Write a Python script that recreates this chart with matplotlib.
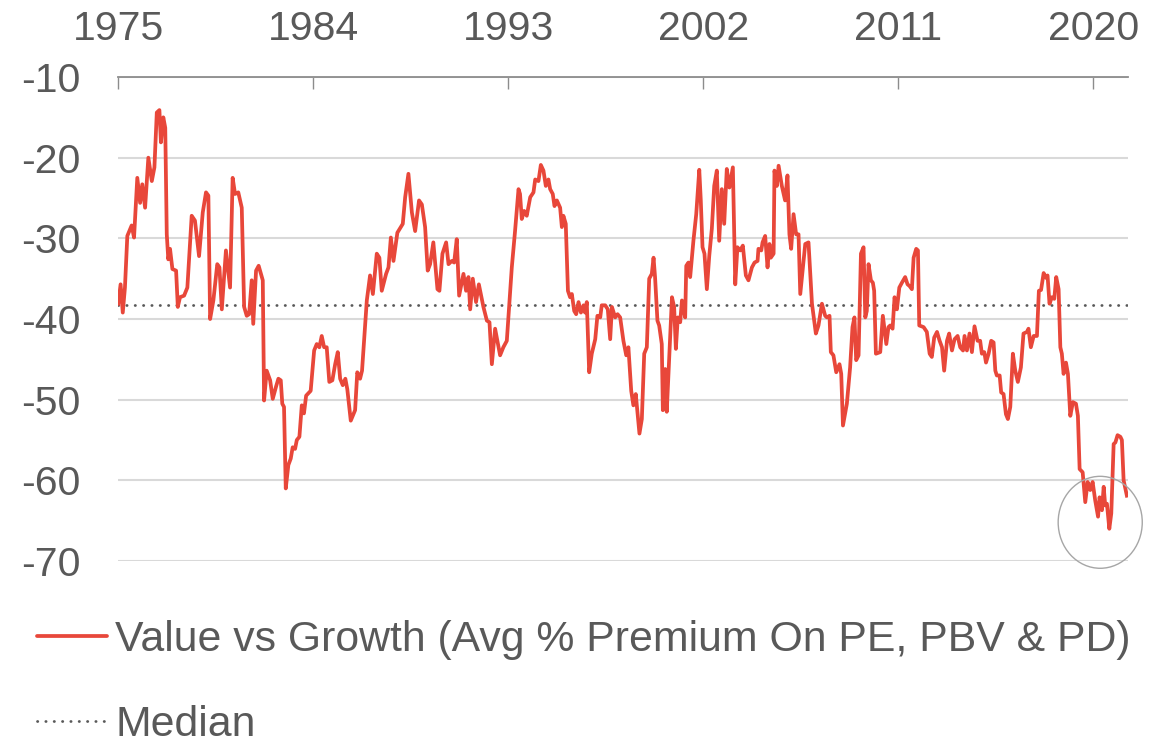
import matplotlib
matplotlib.use("Agg")
import matplotlib.pyplot as plt
from matplotlib.patches import Ellipse
from matplotlib.lines import Line2D

plt.rcParams['font.family'] = ['Liberation Sans', 'DejaVu Sans']
plt.rcParams['axes.unicode_minus'] = False

# 数据：价值股 vs 成长股 平均溢价 (PE, PBV, PD)，按读图估计
years = [
    1975.01, 1975.12, 1975.22, 1975.32, 1975.43, 1975.63, 1975.74, 1975.89, 1976.02, 1976.12,
    1976.25, 1976.40, 1976.56, 1976.68, 1976.79, 1976.91, 1976.98, 1977.09, 1977.18, 1977.25,
    1977.32, 1977.40, 1977.51, 1977.68, 1977.76, 1977.86, 1978.05, 1978.20, 1978.40, 1978.55,
    1978.74, 1978.91, 1979.06, 1979.17, 1979.25, 1979.40, 1979.58, 1979.68, 1979.79, 1979.98,
    1980.17, 1980.29, 1980.40, 1980.55, 1980.71, 1980.82, 1980.94, 1981.05, 1981.17, 1981.24,
    1981.37, 1981.49, 1981.68, 1981.74, 1981.86, 1982.02, 1982.14, 1982.29, 1982.40, 1982.51,
    1982.58, 1982.66, 1982.74, 1982.86, 1982.97, 1983.06, 1983.17, 1983.25, 1983.37, 1983.48,
    1983.58, 1983.68, 1983.89, 1984.05, 1984.17, 1984.29, 1984.40, 1984.51, 1984.63, 1984.75,
    1984.89, 1985.02, 1985.14, 1985.25, 1985.37, 1985.49, 1985.58, 1985.74, 1985.94, 1986.04,
    1986.17, 1986.26, 1986.48, 1986.63, 1986.76, 1986.94, 1987.06, 1987.17, 1987.37, 1987.48,
    1987.59, 1987.71, 1987.89, 1988.14, 1988.25, 1988.40, 1988.56, 1988.71, 1988.89, 1989.02,
    1989.17, 1989.29, 1989.40, 1989.55, 1989.74, 1989.83, 1989.97, 1990.14, 1990.25, 1990.40,
    1990.51, 1990.63, 1990.74, 1990.94, 1991.06, 1991.17, 1991.25, 1991.37, 1991.52, 1991.65,
    1991.86, 1992.02, 1992.14, 1992.25, 1992.40, 1992.63, 1992.78, 1992.94, 1993.17, 1993.32,
    1993.48, 1993.55, 1993.63, 1993.74, 1993.86, 1994.02, 1994.17, 1994.25, 1994.40, 1994.51,
    1994.63, 1994.74, 1994.86, 1994.94, 1995.06, 1995.14, 1995.25, 1995.40, 1995.48, 1995.55,
    1995.66, 1995.76, 1995.86, 1995.94, 1996.05, 1996.14, 1996.25, 1996.36, 1996.48, 1996.55,
    1996.63, 1996.74, 1996.86, 1997.02, 1997.12, 1997.25, 1997.32, 1997.48, 1997.60, 1997.71,
    1997.79, 1997.94, 1998.05, 1998.17, 1998.32, 1998.45, 1998.55, 1998.68, 1998.78, 1998.89,
    1999.06, 1999.17, 1999.28, 1999.40, 1999.51, 1999.63, 1999.71, 1999.78, 1999.89, 1999.97,
    2000.09, 2000.14, 2000.25, 2000.32, 2000.45, 2000.56, 2000.66, 2000.74, 2000.83, 2000.94,
    2001.02, 2001.17, 2001.22, 2001.32, 2001.40, 2001.55, 2001.68, 2001.82, 2001.89, 2001.97,
    2002.06, 2002.17, 2002.28, 2002.40, 2002.51, 2002.63, 2002.74, 2002.86, 2002.97, 2003.09,
    2003.21, 2003.37, 2003.48, 2003.58, 2003.71, 2003.83, 2003.97, 2004.09, 2004.25, 2004.37,
    2004.51, 2004.55, 2004.68, 2004.74, 2004.86, 2004.97, 2005.06, 2005.12, 2005.25, 2005.29,
    2005.40, 2005.48, 2005.63, 2005.78, 2005.89, 2005.98, 2006.06, 2006.17, 2006.29, 2006.40,
    2006.48, 2006.71, 2006.86, 2007.02, 2007.20, 2007.32, 2007.48, 2007.63, 2007.71, 2007.83,
    2007.89, 2008.01, 2008.14, 2008.29, 2008.37, 2008.45, 2008.63, 2008.78, 2008.89, 2008.98,
    2009.06, 2009.17, 2009.28, 2009.40, 2009.48, 2009.55, 2009.63, 2009.74, 2009.83, 2009.89,
    2009.97, 2010.17, 2010.29, 2010.45, 2010.55, 2010.63, 2010.74, 2010.83, 2010.94, 2011.05,
    2011.17, 2011.32, 2011.43, 2011.52, 2011.63, 2011.71, 2011.83, 2011.91, 2011.97, 2012.17,
    2012.32, 2012.45, 2012.55, 2012.66, 2012.79, 2012.91, 2013.02, 2013.12, 2013.25, 2013.35,
    2013.48, 2013.60, 2013.74, 2013.86, 2013.99, 2014.06, 2014.17, 2014.29, 2014.40, 2014.52,
    2014.66, 2014.78, 2014.86, 2014.97, 2015.05, 2015.17, 2015.29, 2015.40, 2015.48, 2015.55,
    2015.68, 2015.75, 2015.86, 2015.97, 2016.06, 2016.17, 2016.29, 2016.40, 2016.52, 2016.66,
    2016.78, 2016.94, 2017.01, 2017.12, 2017.25, 2017.40, 2017.49, 2017.59, 2017.71, 2017.82,
    2017.89, 2017.98, 2018.09, 2018.20, 2018.29, 2018.40, 2018.48, 2018.55, 2018.63, 2018.74,
    2018.83, 2018.94, 2019.06, 2019.20, 2019.29, 2019.37, 2019.51, 2019.63, 2019.74, 2019.86,
    2019.97, 2020.09, 2020.22, 2020.29, 2020.40, 2020.48, 2020.55, 2020.63, 2020.74, 2020.83,
    2020.94, 2021.02, 2021.12, 2021.25, 2021.32, 2021.40, 2021.55,
]

premium = [
    -38.1, -35.7, -39.2, -36.1, -29.7, -28.4, -29.9, -22.5, -25.6, -23.3,
    -26.2, -20.0, -22.9, -21.2, -14.4, -14.1, -18.1, -15.0, -16.3, -29.5,
    -32.6, -31.3, -33.8, -34.0, -38.5, -37.3, -37.1, -36.1, -27.2, -27.8,
    -32.2, -26.8, -24.3, -24.7, -40.0, -37.7, -33.2, -33.6, -38.8, -31.5,
    -36.1, -22.5, -24.5, -24.3, -26.2, -38.5, -39.6, -39.4, -35.2, -40.6,
    -34.0, -33.4, -35.2, -50.1, -46.4, -47.6, -49.9, -48.4, -47.4, -47.6,
    -50.5, -50.9, -61.0, -58.1, -57.3, -55.9, -56.1, -55.0, -54.6, -50.7,
    -51.7, -49.5, -48.9, -43.9, -43.1, -43.5, -42.1, -43.5, -43.5, -47.8,
    -47.6, -45.6, -44.1, -47.4, -48.2, -47.4, -48.7, -52.6, -51.3, -46.6,
    -47.4, -46.4, -37.7, -34.6, -36.9, -31.9, -32.4, -36.5, -34.4, -33.6,
    -29.9, -32.8, -29.3, -28.2, -24.9, -22.0, -26.8, -29.1, -25.3, -25.8,
    -28.6, -34.0, -33.2, -30.5, -36.3, -36.5, -31.9, -30.5, -33.2, -32.8,
    -33.0, -30.1, -37.1, -34.4, -36.5, -34.8, -38.8, -35.0, -37.9, -35.7,
    -38.5, -40.2, -40.4, -45.6, -41.2, -44.5, -43.5, -42.7, -33.6, -29.1,
    -23.9, -24.5, -27.6, -26.6, -27.2, -24.9, -24.3, -22.7, -22.9, -20.9,
    -21.6, -23.5, -22.7, -23.9, -24.5, -26.0, -25.3, -26.2, -28.6, -27.2,
    -28.2, -36.5, -37.3, -36.9, -39.0, -39.4, -37.9, -39.2, -38.3, -39.2,
    -37.9, -46.6, -44.3, -42.5, -39.6, -39.8, -38.3, -38.3, -38.8, -42.5,
    -38.5, -39.8, -39.4, -39.8, -42.7, -44.5, -43.5, -48.9, -50.7, -49.3,
    -54.2, -52.4, -44.3, -43.5, -35.0, -34.4, -32.4, -34.8, -40.2, -40.8,
    -43.1, -51.3, -46.2, -51.5, -43.9, -37.3, -38.5, -43.7, -39.8, -40.4,
    -37.7, -39.8, -33.4, -33.0, -34.8, -30.3, -27.0, -21.5, -25.3, -31.1,
    -31.9, -36.3, -32.2, -28.8, -23.5, -21.6, -30.3, -23.9, -28.2, -21.4,
    -23.7, -21.2, -35.7, -31.1, -31.5, -30.9, -34.6, -35.2, -33.6, -33.0,
    -32.8, -31.3, -31.5, -30.5, -29.7, -33.6, -30.7, -32.4, -31.9, -21.6,
    -23.5, -21.0, -23.5, -25.3, -22.2, -29.5, -31.3, -27.0, -29.5, -29.5,
    -36.9, -30.7, -30.5, -38.1, -41.8, -40.8, -38.1, -39.6, -39.8, -39.6,
    -44.1, -44.5, -46.6, -45.6, -46.8, -53.2, -50.5, -46.0, -41.0, -39.8,
    -45.1, -44.5, -31.9, -31.1, -39.8, -39.0, -33.2, -35.2, -35.5, -36.5,
    -44.3, -44.1, -39.6, -43.1, -41.0, -40.8, -41.2, -37.3, -38.8, -36.1,
    -35.5, -34.8, -35.7, -35.9, -36.3, -32.4, -31.3, -31.5, -40.8, -41.0,
    -41.6, -44.3, -44.7, -42.3, -41.6, -42.7, -43.5, -46.4, -42.7, -41.8,
    -43.9, -42.5, -42.1, -43.5, -43.9, -42.1, -43.9, -41.8, -44.1, -40.9,
    -42.7, -42.7, -44.3, -44.1, -45.4, -44.3, -42.7, -42.9, -46.4, -47.0,
    -47.0, -49.1, -49.3, -51.8, -52.4, -50.9, -44.3, -46.4, -47.8, -46.0,
    -41.8, -41.6, -41.2, -43.5, -42.1, -42.1, -36.5, -36.4, -34.3, -34.9,
    -34.6, -38.1, -37.3, -37.5, -34.8, -36.3, -43.5, -44.3, -46.8, -45.4,
    -46.8, -52.0, -50.3, -50.5, -52.0, -58.6, -59.0, -62.7, -60.2, -61.2,
    -60.2, -62.5, -64.5, -62.1, -63.7, -60.8, -63.1, -62.9, -66.0, -64.1,
    -55.5, -55.3, -54.4, -54.6, -55.0, -60.0, -61.9,
]

median_value = -38.3
year_ticks = [1975, 1984, 1993, 2002, 2011, 2020]
value_ticks = [-10, -20, -30, -40, -50, -60, -70]

series_label = "Value vs Growth (Avg % Premium On PE, PBV & PD)"
median_label = "Median"

red = '#e8473a'
text_grey = '#595959'
median_dash = (0, (0.1, 2.9))

fig = plt.figure(figsize=(11.73, 7.42), dpi=100)
ax = fig.add_axes([0.1006, 0.2439, 0.8610, 0.6523])

ax.plot(years, premium, color=red, lw=2.7, zorder=3, solid_joinstyle='round')
ax.axhline(median_value, color=text_grey, lw=2.0, linestyle=median_dash,
           dash_capstyle='round', zorder=2)

# 右下角的圆圈标注
ax.add_patch(Ellipse((2020.32, -65.2), width=3.88, height=11.4, fill=False,
                     ec='#a6a6a6', lw=1.0, clip_on=False, zorder=4))

ax.set_xlim(1975, 2021.6)
ax.set_ylim(-70, -10)

ax.xaxis.tick_top()
ax.set_xticks(year_ticks)
ax.set_xticklabels([str(y) for y in year_ticks])
ax.tick_params(axis='x', direction='in', length=8.6, width=1.0, color='#8c8c8c',
               labelsize=29.5, labelcolor=text_grey, pad=21)
ax.set_yticks(value_ticks)
ax.tick_params(axis='y', length=0, labelsize=29.5, labelcolor=text_grey, pad=27)

ax.grid(axis='y', color='#d9d9d9', lw=1.5)
ax.set_axisbelow(True)
for side in ['left', 'right', 'bottom']:
    ax.spines[side].set_visible(False)
ax.spines['top'].set_color('#8c8c8c')
ax.spines['top'].set_linewidth(1.3)

handles = [
    Line2D([], [], color=red, lw=2.7, solid_capstyle='round'),
    Line2D([], [], color=text_grey, lw=2.0, linestyle=median_dash,
           dash_capstyle='round'),
]
fig.legend(handles, [series_label, median_label], loc='upper left',
           bbox_to_anchor=(37 / 1173, 1 - 620 / 742), frameon=False,
           fontsize=30.8, handlelength=1.64, handletextpad=0.19,
           labelspacing=1.05, borderpad=0, borderaxespad=0,
           labelcolor=text_grey)

fig.savefig('out.png', dpi=100)
